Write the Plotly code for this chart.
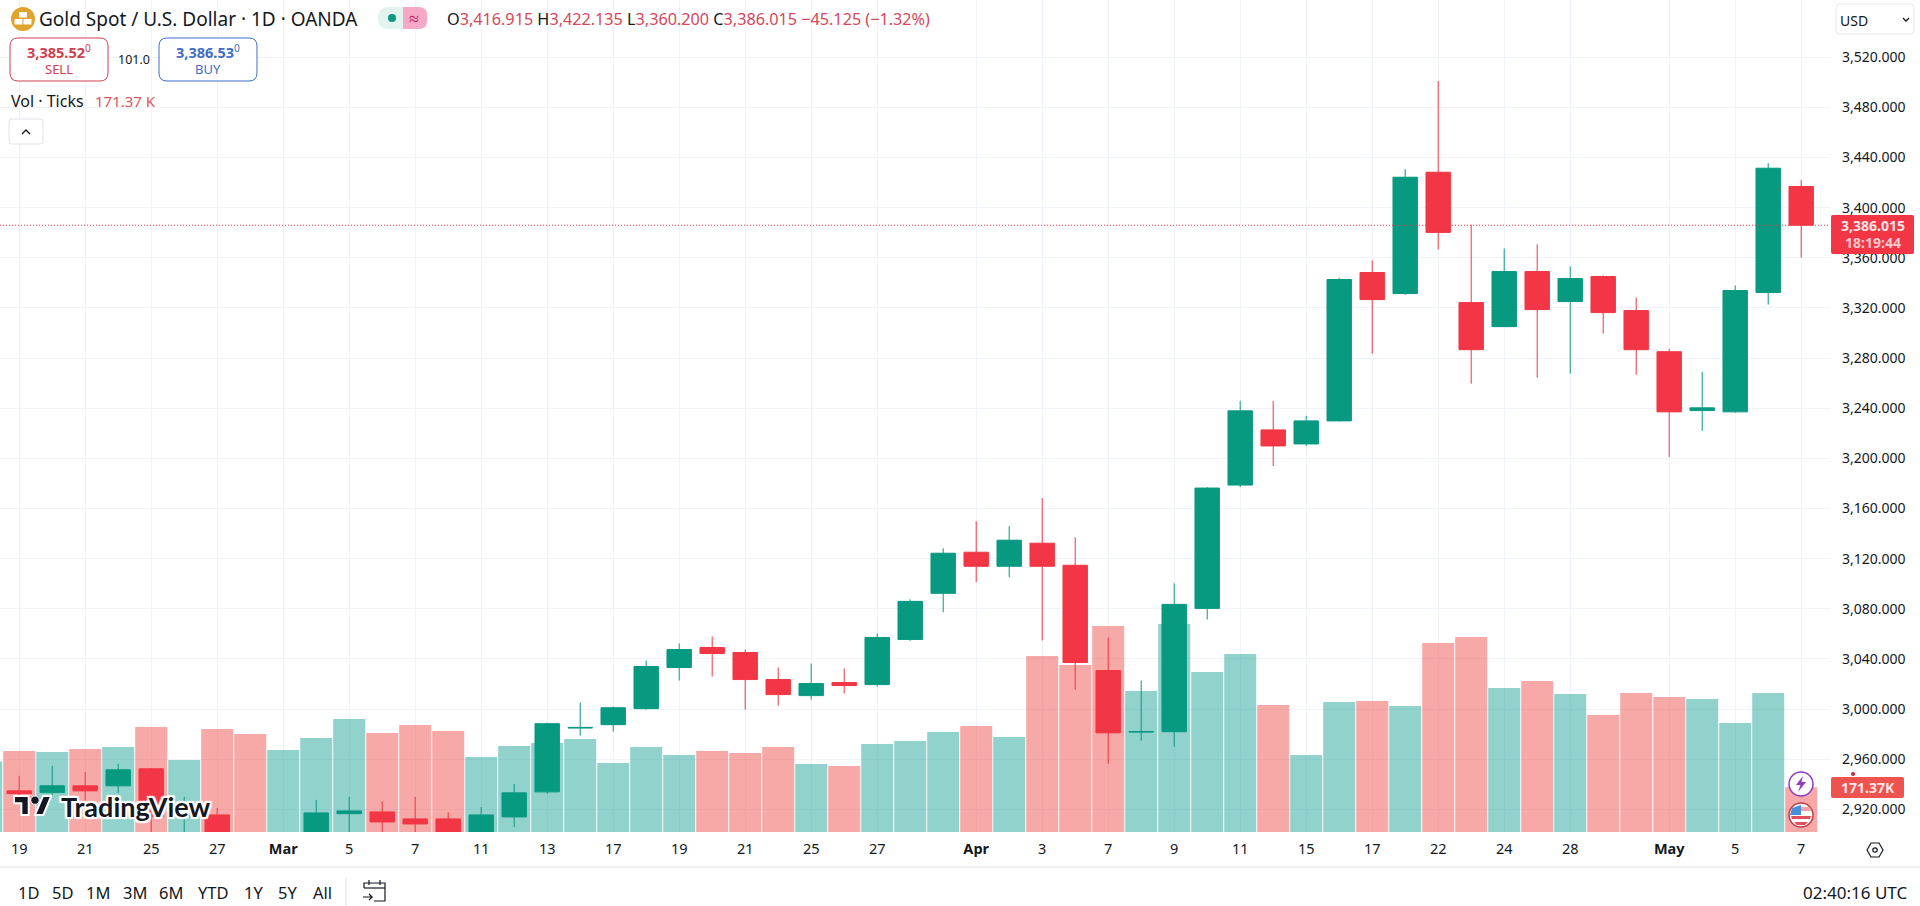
"""
Gold Spot / U.S. Dollar daily candles with tick volume, TradingView style
"""
import plotly.graph_objects as go

W, H = 1920, 906
CHART_RIGHT = 1830
CHART_BOTTOM = 832
FONT = "Noto Sans"

UP = "#089981"
DOWN = "#f23645"
TEXT = "#131722"

dates = [
    "02-18", "02-19", "02-20", "02-21", "02-24", "02-25", "02-26", "02-27", "02-28",
    "03-03", "03-04", "03-05", "03-06", "03-07", "03-10", "03-11", "03-12", "03-13", "03-14",
    "03-17", "03-18", "03-19", "03-20", "03-21", "03-24", "03-25", "03-26", "03-27", "03-28",
    "03-31", "04-01", "04-02", "04-03", "04-04", "04-07", "04-08", "04-09", "04-10", "04-11",
    "04-14", "04-15", "04-16", "04-17", "04-21", "04-22", "04-23", "04-24", "04-25",
    "04-28", "04-29", "04-30", "05-01", "05-02", "05-05", "05-06", "05-07",
]
opens = [
    2899, 2934.7, 2933.3, 2938.7, 2938.7, 2952.3, 2914, 2915.5, 2875,
    2857, 2893, 2916.5, 2917.9, 2912.3, 2912.3, 2889, 2913.9, 2933.9, 2984.8,
    2987.5, 3000.3, 3033.1, 3049.1, 3045.1, 3023.5, 3010.7, 3021.1, 3019.5, 3055.5,
    3092.3, 3125.1, 3113.9, 3132.3, 3114.7, 3030.7, 2981.6, 2981.9, 3080.3, 3178.7,
    3222.7, 3211.5, 3229.9, 3348.3, 3331.5, 3428.3, 3324.3, 3305.1, 3349.1, 3325.1,
    3345.1, 3317.9, 3285.1, 3238.1, 3237.1, 3332.3, 3416.915,
]
highs = [
    2938, 2946.7, 2954.7, 2949.9, 2956.3, 2953, 2930, 2921, 2886,
    2900, 2927.5, 2929.9, 2926.4, 2929.9, 2917.6, 2921.9, 2940.3, 2989, 3005.1,
    3002, 3038.7, 3052.3, 3057.9, 3047.5, 3033.1, 3036.3, 3032.3, 3060.3, 3087.5,
    3128.3, 3149.9, 3145.9, 3168.3, 3137.1, 3057, 3022.7, 3100.3, 3177, 3245.9,
    3245.9, 3233.9, 3344, 3357.9, 3430.7, 3501.1, 3386.4, 3367.5, 3370.7, 3353.1,
    3346, 3328.3, 3287.5, 3269.1, 3337.9, 3435.5, 3422.135,
]
lows = [
    2896, 2927.5, 2930, 2927, 2933, 2901, 2900, 2860, 2832,
    2857, 2885, 2894, 2900, 2897, 2880, 2880, 2905.9, 2932.3, 2978.7,
    2981.9, 2999.5, 3022.7, 3025.9, 2999.5, 3002.7, 3007.5, 3012.3, 3017.9, 3054.4,
    3077.1, 3101.3, 3105.1, 3054.7, 3015.5, 2956.3, 2974.7, 2969.9, 3071.5, 3177,
    3193.9, 3209.9, 3229.5, 3283.5, 3330.5, 3366.7, 3259.5, 3305, 3264.3, 3267.5,
    3299.5, 3266.7, 3201.1, 3221.9, 3236.5, 3322.7, 3360.2,
]
closes = [
    2935, 2932.5, 2938.7, 2934.7, 2951.5, 2914.1, 2917, 2875, 2857,
    2893, 2917.1, 2918.7, 2909.9, 2908.3, 2889, 2915.5, 2933.1, 2988.3, 2985.3,
    3001, 3033.9, 3047.5, 3044.3, 3023.5, 3011.5, 3020.3, 3018.7, 3057.1, 3085.9,
    3124.3, 3113.9, 3134.7, 3113.9, 3037.1, 2981, 2982, 3083.5, 3176.3, 3237.9,
    3209.9, 3229.9, 3342.7, 3326.7, 3424.3, 3380.3, 3286.7, 3349.1, 3318.7, 3343.5,
    3316.3, 3286.7, 3237.1, 3240.3, 3333.9, 3431.5, 3386.015,
]
# tick volume, thousands
volumes = [
    270, 311, 307, 318, 326, 403, 276, 395, 376,
    314, 360, 433, 380, 410, 387, 288, 330, 341, 357,
    265, 326, 295, 311, 303, 326, 261, 253, 337, 349,
    383, 406, 364, 675, 640, 790, 541, 797, 613, 682,
    487, 295, 498, 502, 483, 725, 748, 552, 579, 529,
    449, 533, 518, 510, 418, 533, 171.37,
]

price_ticks = [2920, 2960, 3000, 3040, 3080, 3120, 3160, 3200, 3240, 3280, 3320, 3360, 3400, 3440, 3480, 3520]
time_tick_dates = [
    "02-19", "02-21", "02-25", "02-27", "03-03", "03-05", "03-07", "03-11", "03-13",
    "03-17", "03-19", "03-21", "03-25", "03-27", "04-01", "04-03", "04-07", "04-09",
    "04-11", "04-15", "04-17", "04-22", "04-24", "04-28", "05-01", "05-05", "05-07",
]
time_tick_labels = [
    "19", "21", "25", "27", "<b>Mar</b>", "5", "7", "11", "13",
    "17", "19", "21", "25", "27", "<b>Apr</b>", "3", "7", "9",
    "11", "15", "17", "22", "24", "28", "<b>May</b>", "5", "7",
]
range_buttons = ["1D", "5D", "1M", "3M", "6M", "YTD", "1Y", "5Y", "All"]
range_button_x = [28, 62, 98, 135, 171, 213, 253, 287, 322]
last_close = 3386.015


def px(x):
    return x / W


def py(y):
    return 1 - y / H


def path_of(points, close=True):
    """SVG path in paper coordinates from pixel points."""
    d = "M" + " L".join(f"{px(x):.5f},{py(y):.5f}" for x, y in points)
    return d + (" Z" if close else "")


def rounded(x0, y0, x1, y1, r):
    """Rounded rectangle path in paper coordinates."""
    def p(x, y):
        return f"{px(x):.5f},{py(y):.5f}"
    return (f"M{p(x0 + r, y0)} L{p(x1 - r, y0)} Q{p(x1, y0)} {p(x1, y0 + r)} "
            f"L{p(x1, y1 - r)} Q{p(x1, y1)} {p(x1 - r, y1)} L{p(x0 + r, y1)} "
            f"Q{p(x0, y1)} {p(x0, y1 - r)} L{p(x0, y0 + r)} Q{p(x0, y0)} {p(x0 + r, y0)} Z")


def add_path(fig, d, fill=None, line=None, width=1):
    fig.add_shape(type="path", xref="paper", yref="paper", path=d, layer="above",
                  fillcolor=fill or "rgba(0,0,0,0)",
                  line=dict(color=line or "rgba(0,0,0,0)", width=width if line else 0))


def add_circle(fig, cx, cy, r, fill=None, line=None, width=1):
    fig.add_shape(type="circle", xref="paper", yref="paper", layer="above",
                  x0=px(cx - r), x1=px(cx + r), y0=py(cy + r), y1=py(cy - r),
                  fillcolor=fill or "rgba(0,0,0,0)",
                  line=dict(color=line or "rgba(0,0,0,0)", width=width if line else 0))


def add_text(fig, x, y, text, size=14, color=TEXT, anchor="left", family=FONT, shadow=None):
    font = dict(family=family, size=size, color=color)
    if shadow:
        font["shadow"] = shadow
    fig.add_annotation(xref="paper", yref="paper", x=px(x), y=py(y), text=text, showarrow=False,
                       xanchor=anchor, yanchor="middle", font=font, borderpad=0, borderwidth=0)


def add_header(fig):
    # symbol icon and title
    add_circle(fig, 23, 19, 12, fill="#e0a32c")
    for x0, y0 in [(19, 12), (14.5, 19), (23.5, 19)]:
        add_path(fig, path_of([(x0, y0), (x0 + 8, y0), (x0 + 8, y0 + 5.5), (x0, y0 + 5.5)]), fill="white")
    add_text(fig, 39, 19, "Gold Spot / U.S. Dollar · 1D · OANDA", size=19)

    # market status pill
    add_path(fig, rounded(378, 7, 427, 29, 11), fill="#e3f3f0")
    add_path(fig, rounded(403, 7, 427, 29, 8), fill="#f6a9c6")
    add_path(fig, path_of([(403, 7), (412, 7), (412, 29), (403, 29)]), fill="#f6a9c6")
    add_circle(fig, 392, 18, 4, fill=UP)
    add_text(fig, 414, 18, "≈", size=18, color="#b5235e", anchor="center")

    # OHLC
    red = "#d7475a"
    def val(s):
        return f'<span style="color:{red}">{s}</span>'
    ohlc = ("O" + val("3,416.915") + " H" + val("3,422.135") + " L" + val("3,360.200")
            + " C" + val("3,386.015") + " " + val("−45.125 (−1.32%)"))
    add_text(fig, 447, 19, ohlc, size=16.2)

    # sell / buy
    add_path(fig, rounded(10, 38, 108, 81, 8), fill="white", line="#d0404e")
    add_text(fig, 59, 52, "<b>3,385.52</b><sup>0</sup>", size=14.5, color="#d0404e", anchor="center")
    add_text(fig, 59, 69, "SELL", size=13, color="#d0404e", anchor="center")
    add_text(fig, 134, 59, "101.0", size=12.5, anchor="center")
    add_path(fig, rounded(159, 38, 257, 81, 8), fill="white", line="#3f6cc8")
    add_text(fig, 208, 52, "<b>3,386.53</b><sup>0</sup>", size=14.5, color="#3f6cc8", anchor="center")
    add_text(fig, 208, 69, "BUY", size=13, color="#3f6cc8", anchor="center")

    # volume legend and collapse button
    add_text(fig, 11, 101, "Vol · Ticks", size=16)
    add_text(fig, 95, 101, "171.37 K", size=15, color="#e0555a")
    add_path(fig, rounded(9, 119, 43, 144, 3), fill="white", line="#e0e3eb")
    add_path(fig, path_of([(22, 134), (26, 130), (30, 134)], close=False), line=TEXT, width=1.3)

    # currency dropdown
    add_path(fig, rounded(1836, 4, 1914, 34, 4), fill="white", line="#e6e8ef")
    add_text(fig, 1840, 20, "USD", size=14)
    add_path(fig, path_of([(1903, 18), (1906, 21), (1909, 18)], close=False), line=TEXT, width=1.3)


def add_price_labels(fig):
    # last price tag
    add_path(fig, rounded(1831, 215, 1914, 254, 2), fill=DOWN)
    add_text(fig, 1872.5, 225, "<b>3,386.015</b>", size=14, color="#fde4e6", anchor="center")
    add_text(fig, 1872.5, 243, "<b>18:19:44</b>", size=14, color="#fbc8cd", anchor="center")

    # volume tag
    add_circle(fig, 1853, 774, 2, fill="#d0203a")
    add_path(fig, rounded(1831, 777, 1904, 798, 2), fill="#ef5350")
    add_text(fig, 1867.5, 787.5, "<b>171.37K</b>", size=14, color="#fde4e6", anchor="center")

    # events on the last bar
    add_circle(fig, 1801, 784, 12, fill="white", line="#8e3bc4", width=1.5)
    add_path(fig, path_of([(1803, 776), (1796, 785), (1800.5, 785), (1798, 792), (1806, 782), (1801.5, 782)]),
             fill="#8e3bc4")
    add_circle(fig, 1801, 815, 12, fill="white", line="#c23a4c", width=1.5)
    add_path(fig, path_of([(1801, 807), (1810, 807), (1811, 811), (1801, 811)]), fill="#f0a0a8")
    add_path(fig, path_of([(1791, 816), (1811, 816), (1810, 819), (1792, 819)]), fill="#e0505c")
    add_path(fig, path_of([(1794, 822), (1808, 822), (1805, 825), (1797, 825)]), fill="#e0505c")
    add_path(fig, path_of([(1792, 808), (1801, 805), (1801, 815), (1790, 815)]), fill="#4a90d9")


def add_logo(fig):
    # mark drawn from the 36x18 logo box
    s, ox, oy = 1.05, 14, 796
    def pts(coords):
        return [(ox + s * x, oy + s * y) for x, y in coords]
    slab = pts([(0, 0), (14, 0), (14, 18), (7, 18), (7, 7), (0, 7)])
    slant = pts([(27.5, 0), (35.5, 0), (28, 18), (20, 18)])
    for shape in (slab, slant):
        add_path(fig, path_of(shape), fill="#131722", line="white", width=2)
    add_circle(fig, ox + s * 20, oy + s * 4, s * 4, fill="#131722", line="white", width=1)
    halo = ",".join(f"{a}px {b}px 1px white" for a, b in
                    [(-2, 0), (2, 0), (0, -2), (0, 2), (-2, -2), (2, 2), (-2, 2), (2, -2)])
    add_text(fig, 61, 806, "<b>TradingView</b>", size=27, color="#131722", family="Lato", shadow=halo)


def add_footer(fig):
    add_path(fig, path_of([(0, 867), (W, 867)], close=False), line="#e0e3eb")
    for label, x in zip(range_buttons, range_button_x):
        add_text(fig, x, 892, label, size=16.5, anchor="center")
    add_path(fig, path_of([(346, 878), (346, 906)], close=False), line="#e0e3eb")

    # go-to-date icon
    add_path(fig, path_of([(364, 888), (364, 883), (385, 883), (385, 901), (374, 901)], close=False), line=TEXT, width=1.2)
    add_path(fig, path_of([(364, 888), (385, 888)], close=False), line=TEXT, width=1.2)
    add_path(fig, path_of([(369, 880), (369, 885)], close=False), line=TEXT, width=1.2)
    add_path(fig, path_of([(380, 880), (380, 885)], close=False), line=TEXT, width=1.2)
    add_path(fig, path_of([(363, 897), (372, 897), (369, 894)], close=False), line=TEXT, width=1.2)
    add_path(fig, path_of([(372, 897), (369, 900)], close=False), line=TEXT, width=1.2)

    add_text(fig, 1907, 892, "02:40:16 UTC", size=17, anchor="right")

    # axis settings hexagon
    add_path(fig, path_of([(1867, 850), (1871, 843), (1879, 843), (1883, 850), (1879, 857), (1871, 857)]),
             line=TEXT, width=1.2)
    add_circle(fig, 1875, 850, 2.2, line=TEXT, width=1.2)


def main():
    bar_colors = ["rgba(38,166,154,0.5)" if c >= o else "rgba(239,83,80,0.5)" for o, c in zip(opens, closes)]

    fig = go.Figure()
    fig.add_trace(go.Bar(x=dates, y=volumes, marker=dict(color=bar_colors, line=dict(width=0)),
                         yaxis="y", name="Vol"))
    fig.add_trace(go.Candlestick(
        x=dates, open=opens, high=highs, low=lows, close=closes, yaxis="y2", name="XAUUSD",
        increasing=dict(line=dict(color=UP, width=1), fillcolor=UP),
        decreasing=dict(line=dict(color=DOWN, width=1), fillcolor=DOWN),
    ))

    # bars are 33px apart, first label (02-19, index 1) sits at x=19.2px
    x_left = 1 - 19.2 / 33
    x_right = 1 + (CHART_RIGHT - 19.2) / 33
    # 3520 at y=57.3px, 1.2533 px per dollar
    price_top = 3520 + 57.3 / 1.2533
    price_bottom = 3520 - (CHART_BOTTOM - 57.3) / 1.2533

    fig.update_layout(
        width=W, height=H,
        margin=dict(l=0, r=0, t=0, b=0),
        paper_bgcolor="white", plot_bgcolor="white",
        showlegend=False,
        bargap=0.03, boxgap=0.26, boxgroupgap=0,
        font=dict(family=FONT, size=14, color=TEXT),
        xaxis=dict(
            type="category", domain=[0, CHART_RIGHT / W], range=[x_left, x_right],
            categoryorder="array", categoryarray=dates,
            tickmode="array", tickvals=time_tick_dates, ticktext=time_tick_labels,
            showgrid=True, gridcolor="#f0f3fa", gridwidth=1,
            ticks="", showline=False, zeroline=False, rangeslider=dict(visible=False),
            ticklabelstandoff=6, tickfont=dict(size=14.5, color=TEXT),
        ),
        yaxis=dict(
            domain=[1 - CHART_BOTTOM / H, 1], range=[0, CHART_BOTTOM * 3.834],
            visible=False, showgrid=False, zeroline=False,
        ),
        yaxis2=dict(
            overlaying="y", side="right", anchor="x", range=[price_bottom, price_top],
            tickmode="array", tickvals=price_ticks, ticktext=[f"{p:,.3f}" for p in price_ticks],
            showgrid=True, gridcolor="#f0f3fa", gridwidth=1,
            ticks="", showline=False, zeroline=False,
            ticklabelstandoff=11, tickfont=dict(size=14, color=TEXT),
        ),
    )

    fig.add_shape(type="line", xref="x domain", yref="y2", x0=0, x1=1, y0=last_close, y1=last_close,
                  line=dict(color=DOWN, width=1, dash="1px,2px"), layer="above")

    add_header(fig)
    add_price_labels(fig)
    add_logo(fig)
    add_footer(fig)

    fig.write_html("out.html", config=dict(displayModeBar=False),
                   post_script="document.body.style.margin='0';document.body.style.overflow='hidden';")


if __name__ == '__main__':
    main()
